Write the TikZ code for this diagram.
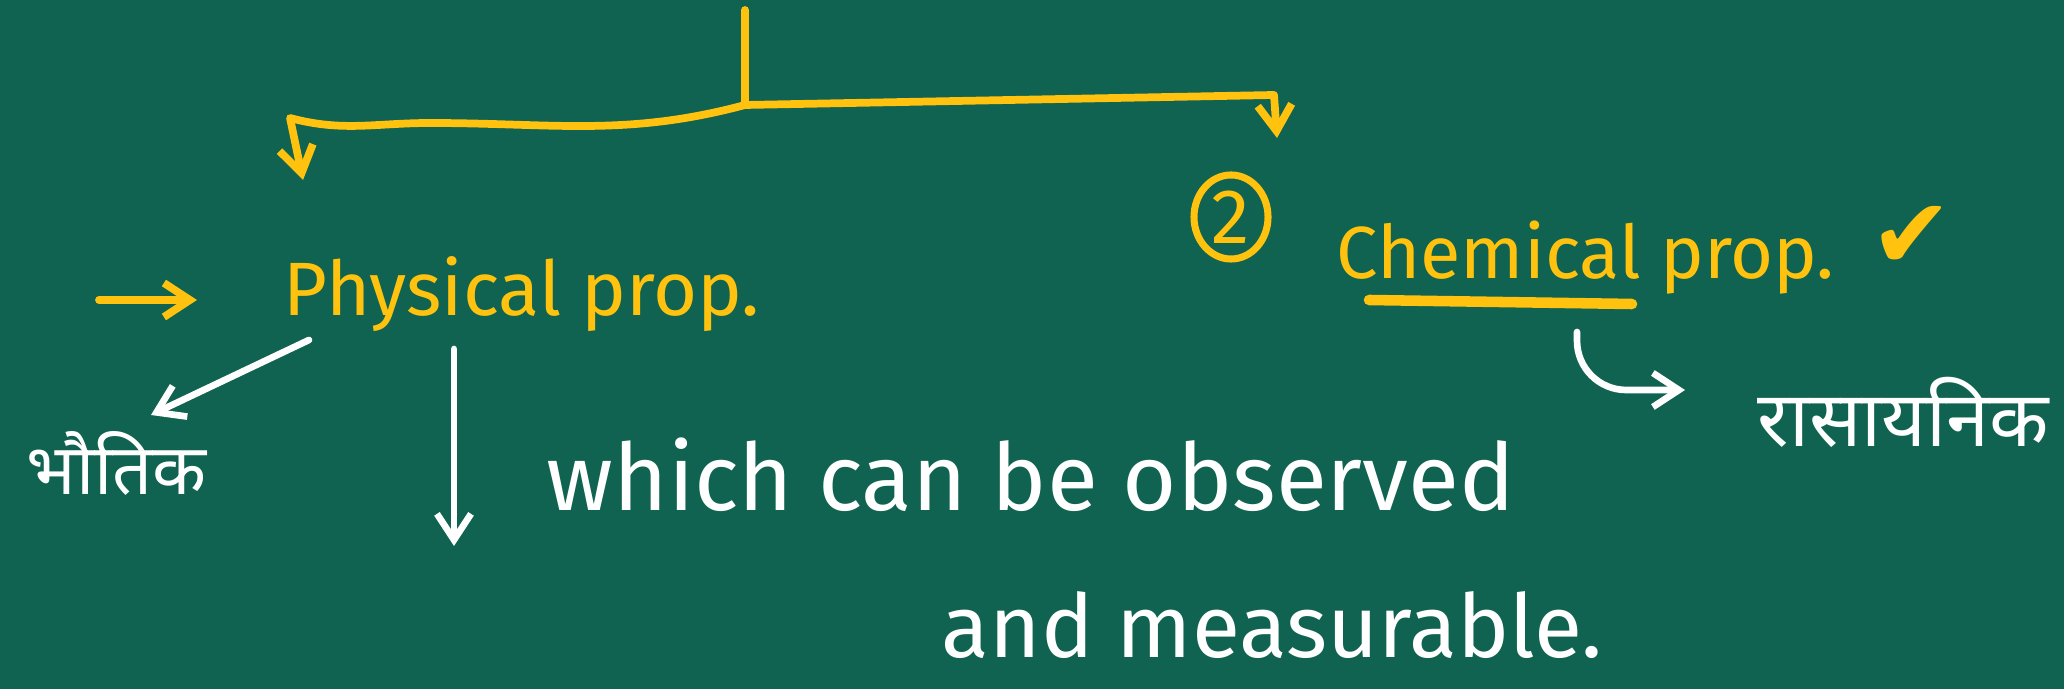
\documentclass[tikz,border=0pt]{standalone}
\usepackage{fontspec}
\setmainfont{Fira Sans}
\newfontfamily\hindifont[Script=Devanagari]{Noto Sans}
\newfontfamily\symbfont{DejaVu Sans}
\usepackage{xcolor}
\definecolor{board}{HTML}{0F6350}
\definecolor{chalkyel}{HTML}{FFC20E}
\usetikzlibrary{arrows.meta,positioning,shapes.geometric}

\begin{document}
\begin{tikzpicture}[x=0.01cm,y=-0.01cm,
  yl/.style={draw=chalkyel,line width=2.2pt,line cap=round,line join=round},
  wl/.style={draw=white,line width=1.9pt,line cap=round,line join=round},
  arr/.style={-{Straight Barb[length=2.6mm,width=3.4mm]}},
  ytxt/.style={text=chalkyel,font=\fontsize{21.5}{26}\selectfont,inner sep=0pt},
  wtxt/.style={text=white,font=\fontsize{26.5}{30}\selectfont,inner sep=0pt},
  hin/.style={text=white,font=\hindifont\fontsize{20}{24}\selectfont,inner sep=0pt}]
\useasboundingbox (0,0) rectangle (2064,689);
\fill[board] (0,0) rectangle (2064,689);
% tree at the top
\coordinate (top) at (745,10);
\coordinate (fork) at (745,105);
\coordinate (lcorner) at (290,118);
\coordinate (ltip) at (303,180);
\coordinate (rcorner) at (1274,95);
\coordinate (rtip) at (1277,138);
\draw[yl] (top) -- (fork);
\draw[yl,arr] (fork) to[out=195,in=0] (430,123) to[out=180,in=-15] (lcorner) -- (ltip);
\draw[yl,arr] (fork) -- (rcorner) -- (rtip);
% physical
\node[ytxt,anchor=base west] (phys) at (283,316) {Physical prop.};
\coordinate (bullet) at (99,300);
\coordinate (bullettip) at (197,300);
\draw[yl,arr] (bullet) -- (bullettip);
\node[hin,anchor=west] (bhautik) at (26,463) {भौतिक};
\coordinate (hinfrom) at (309,340);
\coordinate (hinto) at (151,415);
\draw[wl,arr] (hinfrom) -- (hinto);
\coordinate (downfrom) at (454,349);
\coordinate (downto) at (454,546);
\draw[wl,arr] (downfrom) -- (downto);
\node[wtxt,anchor=base west] (obs) at (546,511) {which can be observed};
\node[wtxt,anchor=base west,font=\fontsize{25}{30}\selectfont] (meas) at (941,658) {and measurable.};
% chemical
\node[draw=chalkyel,line width=2pt,ellipse,minimum width=0.74cm,minimum height=0.84cm,inner sep=0pt,text=chalkyel,font=\fontsize{22}{24}\selectfont] (two) at (1231,217) {2};
\node[ytxt,anchor=base west,font=\fontsize{21}{25}\selectfont] (chem) at (1336,279) {Chemical prop.};
\node[text=chalkyel,font=\symbfont\fontsize{28}{32}\selectfont,inner sep=0pt] (tick) at (1912,237) {✔};
\coordinate (ulfrom) at (1369,300);
\coordinate (ulto) at (1632,304);
\draw[yl,line width=3pt] (ulfrom) -- (ulto);
\coordinate (lfrom) at (1577,332);
\coordinate (lto) at (1685,390);
\draw[wl,arr,rounded corners=14pt] (lfrom) |- (lto);
\node[hin,anchor=west,font=\hindifont\fontsize{22}{26}\selectfont] (rasayanik) at (1757,412) {रासायनिक};
\end{tikzpicture}
\end{document}
